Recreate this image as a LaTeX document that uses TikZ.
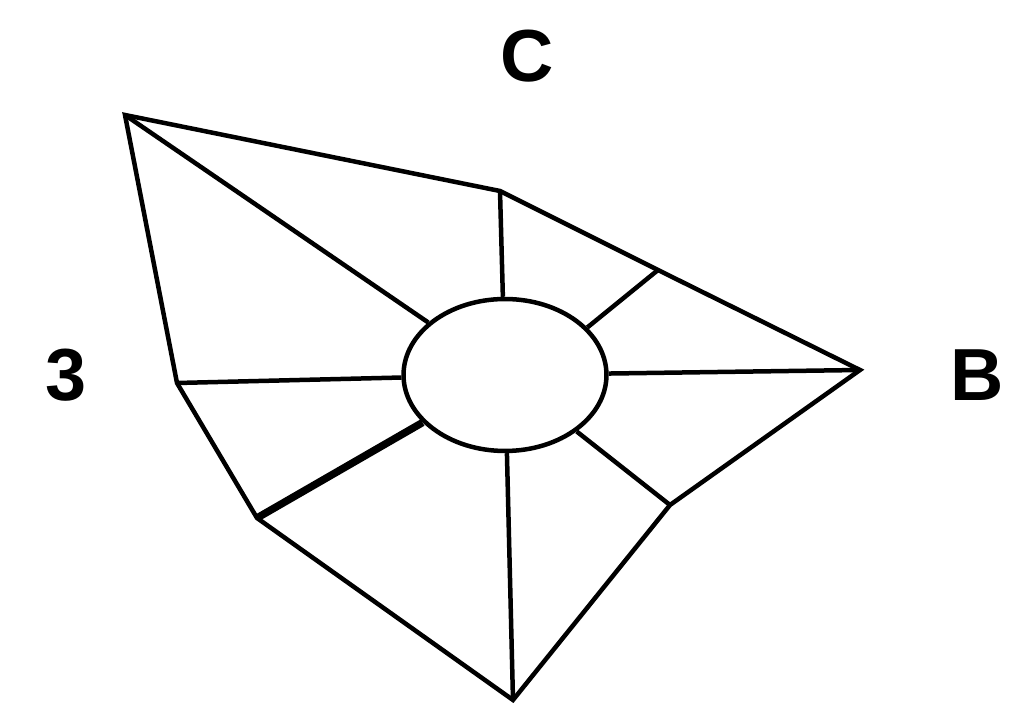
\documentclass[tikz,border=0pt]{standalone}
\usepackage{fontspec}
\setmainfont{Liberation Sans}
\usetikzlibrary{shapes.geometric}

\begin{document}
\begin{tikzpicture}[x=0.02cm, y=-0.02cm, line width=0.09cm,
    lbl/.style={font=\fontsize{42}{42}\selectfont\bfseries, inner sep=0pt}]
  \useasboundingbox (0,0) rectangle (1009,712);

  % outer corners
  \coordinate (ctl) at (125,115);
  \coordinate (ctop) at (500,191);
  \coordinate (cne) at (658,270);
  \coordinate (ceast) at (860,370);
  \coordinate (cse) at (670,505);
  \coordinate (cbot) at (513,700);
  \coordinate (csw) at (257,518);
  \coordinate (cwest) at (177,383);

  % outline
  \draw (ctl) -- (ctop) -- (cne) -- (ceast) -- (cse) -- (cbot) -- (csw) -- (cwest) -- cycle;

  % hub
  \node[ellipse, draw, minimum width=4.06cm, minimum height=3.04cm, inner sep=0pt] (hub) at (505,375) {};

  % spokes
  \foreach \c in {ctl,ctop,ceast,cse,cbot,cwest}
    \draw (\c) -- (hub);
  \draw (cne) -- (hub.30);
  \draw[line width=0.15cm] (csw) -- (hub);

  % labels
  \node[lbl] (lblC) at (527,56) {C};
  \node[lbl] (lbl3) at (66,375) {3};
  \node[lbl] (lblB) at (977,375) {B};
\end{tikzpicture}
\end{document}
